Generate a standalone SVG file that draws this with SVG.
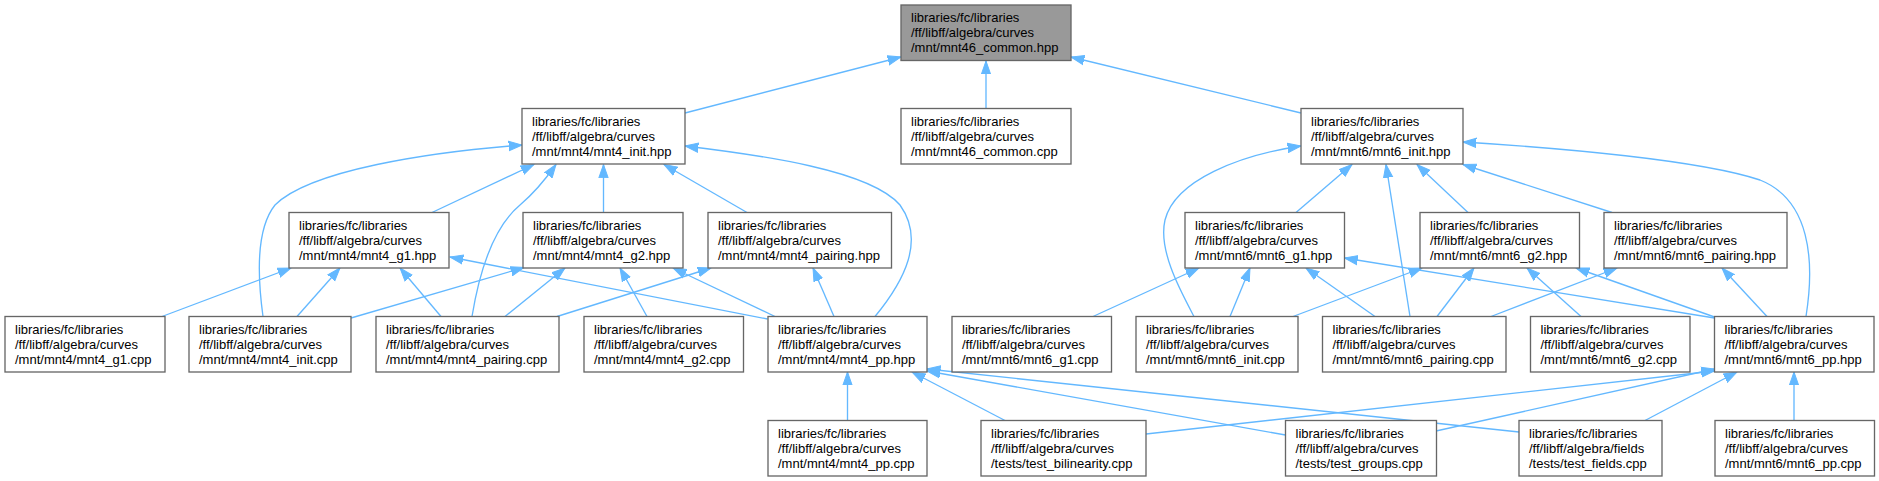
<svg xmlns="http://www.w3.org/2000/svg" width="1879" height="481" viewBox="0 0 1879 481">
<style>
.n rect{fill:#ffffff;stroke:#666666;stroke-width:1.33}
.n.root rect{fill:#999999}
.n text{font-family:"Liberation Sans",Arial,Helvetica,sans-serif;font-size:13px;fill:#000000}
.e path{fill:none;stroke:#63b8ff;stroke-width:1.33;marker-end:url(#arr)}
</style>
<defs>
<marker id="arr" markerUnits="userSpaceOnUse" markerWidth="16" markerHeight="12" viewBox="0 -6 16 12" refX="13.3" refY="0" orient="auto">
<path d="M0,-4.67 L13.3,0 L0,4.67 Z" fill="#63b8ff" stroke="#63b8ff" stroke-width="1"/>
</marker>
</defs>
<rect x="0" y="0" width="1879" height="481" fill="#ffffff"/>
<g id="edges" class="e">
<path d="M685,113 L901,57"/>
<path d="M986,108.5 L986,61"/>
<path d="M1301,113 L1071,57"/>
<path d="M432,212.5 L534,164.5"/>
<path d="M263,316.5 C258,280 255,230 275,205 C310,170 430,152 522,145"/>
<path d="M472,316.5 C478,280 490,230 520,205 C533,194 545,180 556,164.5"/>
<path d="M603.5,212.5 L603.5,164.5"/>
<path d="M747,212.5 L664,164.5"/>
<path d="M875,316.5 C905,280 925,240 900,205 C870,170 760,155 685,146"/>
<path d="M1296,212.5 L1352,164.5"/>
<path d="M1194,316.5 C1180,290 1158,250 1165,220 C1175,180 1240,155 1301,146"/>
<path d="M1410,316.5 L1386,164.5"/>
<path d="M1468,212.5 L1417,164.5"/>
<path d="M1612,212.5 L1463,164.5"/>
<path d="M1806,316.5 C1815,260 1810,200 1760,180 C1700,160 1560,148 1463,142"/>
<path d="M162,316.5 L291,268"/>
<path d="M297,316.5 L340,268"/>
<path d="M441,316.5 L400,268"/>
<path d="M767.5,319 L450,257"/>
<path d="M351,318 L524,267.5"/>
<path d="M505,316.5 L565,268"/>
<path d="M647,316.5 L620,268"/>
<path d="M775,316.5 L673,268"/>
<path d="M557,316.5 L711,268"/>
<path d="M834,316.5 L813,268"/>
<path d="M1093,316.5 L1199,268"/>
<path d="M1230,316.5 L1250,268"/>
<path d="M1375,316.5 L1306,268"/>
<path d="M1714.5,318 L1344.5,258"/>
<path d="M1293,316.5 L1422,268"/>
<path d="M1437,316.5 L1474,268"/>
<path d="M1581,316.5 L1527,268"/>
<path d="M1714.5,317 L1576,268"/>
<path d="M1491,316.5 L1617,268"/>
<path d="M1767,316.5 L1722,268"/>
<path d="M847.5,420.5 L847.5,372"/>
<path d="M1005,420.5 L912,372"/>
<path d="M1285.5,435 L927,371"/>
<path d="M1519,432 L927,369"/>
<path d="M1146,434 L1714.5,371"/>
<path d="M1436,431 L1714.5,369"/>
<path d="M1645,420.5 L1737,372"/>
<path d="M1794,420.5 L1794,372"/>
</g>
<g id="n_mnt46_common_hpp" class="n root"><rect x="901" y="5" width="170" height="55.5"/><text x="911" y="22"><tspan x="911" y="22">libraries/fc/libraries</tspan><tspan x="911" y="37">/ff/libff/algebra/curves</tspan><tspan x="911" y="52">/mnt/mnt46_common.hpp</tspan></text></g>
<g id="n_mnt4_init_hpp" class="n"><rect x="522" y="108.5" width="163" height="55.5"/><text><tspan x="532" y="125.5">libraries/fc/libraries</tspan><tspan x="532" y="140.5">/ff/libff/algebra/curves</tspan><tspan x="532" y="155.5">/mnt/mnt4/mnt4_init.hpp</tspan></text></g>
<g id="n_mnt46_common_cpp" class="n"><rect x="901" y="108.5" width="170" height="55.5"/><text><tspan x="911" y="125.5">libraries/fc/libraries</tspan><tspan x="911" y="140.5">/ff/libff/algebra/curves</tspan><tspan x="911" y="155.5">/mnt/mnt46_common.cpp</tspan></text></g>
<g id="n_mnt6_init_hpp" class="n"><rect x="1301" y="108.5" width="162" height="55.5"/><text><tspan x="1311" y="125.5">libraries/fc/libraries</tspan><tspan x="1311" y="140.5">/ff/libff/algebra/curves</tspan><tspan x="1311" y="155.5">/mnt/mnt6/mnt6_init.hpp</tspan></text></g>
<g id="n_mnt4_g1_hpp" class="n"><rect x="289" y="212.5" width="160" height="55.5"/><text><tspan x="299" y="229.5">libraries/fc/libraries</tspan><tspan x="299" y="244.5">/ff/libff/algebra/curves</tspan><tspan x="299" y="259.5">/mnt/mnt4/mnt4_g1.hpp</tspan></text></g>
<g id="n_mnt4_g2_hpp" class="n"><rect x="523" y="212.5" width="160" height="55.5"/><text><tspan x="533" y="229.5">libraries/fc/libraries</tspan><tspan x="533" y="244.5">/ff/libff/algebra/curves</tspan><tspan x="533" y="259.5">/mnt/mnt4/mnt4_g2.hpp</tspan></text></g>
<g id="n_mnt4_pairing_hpp" class="n"><rect x="708" y="212.5" width="183.5" height="55.5"/><text><tspan x="718" y="229.5">libraries/fc/libraries</tspan><tspan x="718" y="244.5">/ff/libff/algebra/curves</tspan><tspan x="718" y="259.5">/mnt/mnt4/mnt4_pairing.hpp</tspan></text></g>
<g id="n_mnt6_g1_hpp" class="n"><rect x="1185" y="212.5" width="159.5" height="55.5"/><text><tspan x="1195" y="229.5">libraries/fc/libraries</tspan><tspan x="1195" y="244.5">/ff/libff/algebra/curves</tspan><tspan x="1195" y="259.5">/mnt/mnt6/mnt6_g1.hpp</tspan></text></g>
<g id="n_mnt6_g2_hpp" class="n"><rect x="1420" y="212.5" width="159.5" height="55.5"/><text><tspan x="1430" y="229.5">libraries/fc/libraries</tspan><tspan x="1430" y="244.5">/ff/libff/algebra/curves</tspan><tspan x="1430" y="259.5">/mnt/mnt6/mnt6_g2.hpp</tspan></text></g>
<g id="n_mnt6_pairing_hpp" class="n"><rect x="1604" y="212.5" width="183" height="55.5"/><text><tspan x="1614" y="229.5">libraries/fc/libraries</tspan><tspan x="1614" y="244.5">/ff/libff/algebra/curves</tspan><tspan x="1614" y="259.5">/mnt/mnt6/mnt6_pairing.hpp</tspan></text></g>
<g id="n_mnt4_g1_cpp" class="n"><rect x="5" y="316.5" width="160" height="55.5"/><text><tspan x="15" y="333.5">libraries/fc/libraries</tspan><tspan x="15" y="348.5">/ff/libff/algebra/curves</tspan><tspan x="15" y="363.5">/mnt/mnt4/mnt4_g1.cpp</tspan></text></g>
<g id="n_mnt4_init_cpp" class="n"><rect x="189" y="316.5" width="162" height="55.5"/><text><tspan x="199" y="333.5">libraries/fc/libraries</tspan><tspan x="199" y="348.5">/ff/libff/algebra/curves</tspan><tspan x="199" y="363.5">/mnt/mnt4/mnt4_init.cpp</tspan></text></g>
<g id="n_mnt4_pairing_cpp" class="n"><rect x="376" y="316.5" width="183" height="55.5"/><text><tspan x="386" y="333.5">libraries/fc/libraries</tspan><tspan x="386" y="348.5">/ff/libff/algebra/curves</tspan><tspan x="386" y="363.5">/mnt/mnt4/mnt4_pairing.cpp</tspan></text></g>
<g id="n_mnt4_g2_cpp" class="n"><rect x="584" y="316.5" width="159.5" height="55.5"/><text><tspan x="594" y="333.5">libraries/fc/libraries</tspan><tspan x="594" y="348.5">/ff/libff/algebra/curves</tspan><tspan x="594" y="363.5">/mnt/mnt4/mnt4_g2.cpp</tspan></text></g>
<g id="n_mnt4_pp_hpp" class="n"><rect x="768" y="316.5" width="159" height="55.5"/><text><tspan x="778" y="333.5">libraries/fc/libraries</tspan><tspan x="778" y="348.5">/ff/libff/algebra/curves</tspan><tspan x="778" y="363.5">/mnt/mnt4/mnt4_pp.hpp</tspan></text></g>
<g id="n_mnt6_g1_cpp" class="n"><rect x="952" y="316.5" width="159.5" height="55.5"/><text><tspan x="962" y="333.5">libraries/fc/libraries</tspan><tspan x="962" y="348.5">/ff/libff/algebra/curves</tspan><tspan x="962" y="363.5">/mnt/mnt6/mnt6_g1.cpp</tspan></text></g>
<g id="n_mnt6_init_cpp" class="n"><rect x="1136" y="316.5" width="162" height="55.5"/><text><tspan x="1146" y="333.5">libraries/fc/libraries</tspan><tspan x="1146" y="348.5">/ff/libff/algebra/curves</tspan><tspan x="1146" y="363.5">/mnt/mnt6/mnt6_init.cpp</tspan></text></g>
<g id="n_mnt6_pairing_cpp" class="n"><rect x="1322.5" y="316.5" width="183.5" height="55.5"/><text><tspan x="1332.5" y="333.5">libraries/fc/libraries</tspan><tspan x="1332.5" y="348.5">/ff/libff/algebra/curves</tspan><tspan x="1332.5" y="363.5">/mnt/mnt6/mnt6_pairing.cpp</tspan></text></g>
<g id="n_mnt6_g2_cpp" class="n"><rect x="1530.5" y="316.5" width="159.5" height="55.5"/><text><tspan x="1540.5" y="333.5">libraries/fc/libraries</tspan><tspan x="1540.5" y="348.5">/ff/libff/algebra/curves</tspan><tspan x="1540.5" y="363.5">/mnt/mnt6/mnt6_g2.cpp</tspan></text></g>
<g id="n_mnt6_pp_hpp" class="n"><rect x="1714.5" y="316.5" width="159.5" height="55.5"/><text><tspan x="1724.5" y="333.5">libraries/fc/libraries</tspan><tspan x="1724.5" y="348.5">/ff/libff/algebra/curves</tspan><tspan x="1724.5" y="363.5">/mnt/mnt6/mnt6_pp.hpp</tspan></text></g>
<g id="n_mnt4_pp_cpp" class="n"><rect x="768" y="420.5" width="159" height="55.5"/><text><tspan x="778" y="437.5">libraries/fc/libraries</tspan><tspan x="778" y="452.5">/ff/libff/algebra/curves</tspan><tspan x="778" y="467.5">/mnt/mnt4/mnt4_pp.cpp</tspan></text></g>
<g id="n_test_bilinearity_cpp" class="n"><rect x="981" y="420.5" width="165" height="55.5"/><text><tspan x="991" y="437.5">libraries/fc/libraries</tspan><tspan x="991" y="452.5">/ff/libff/algebra/curves</tspan><tspan x="991" y="467.5">/tests/test_bilinearity.cpp</tspan></text></g>
<g id="n_test_groups_cpp" class="n"><rect x="1285.5" y="420.5" width="151" height="55.5"/><text><tspan x="1295.5" y="437.5">libraries/fc/libraries</tspan><tspan x="1295.5" y="452.5">/ff/libff/algebra/curves</tspan><tspan x="1295.5" y="467.5">/tests/test_groups.cpp</tspan></text></g>
<g id="n_test_fields_cpp" class="n"><rect x="1519" y="420.5" width="143" height="55.5"/><text><tspan x="1529" y="437.5">libraries/fc/libraries</tspan><tspan x="1529" y="452.5">/ff/libff/algebra/fields</tspan><tspan x="1529" y="467.5">/tests/test_fields.cpp</tspan></text></g>
<g id="n_mnt6_pp_cpp" class="n"><rect x="1715" y="420.5" width="159.5" height="55.5"/><text><tspan x="1725" y="437.5">libraries/fc/libraries</tspan><tspan x="1725" y="452.5">/ff/libff/algebra/curves</tspan><tspan x="1725" y="467.5">/mnt/mnt6/mnt6_pp.cpp</tspan></text></g>
</svg>
